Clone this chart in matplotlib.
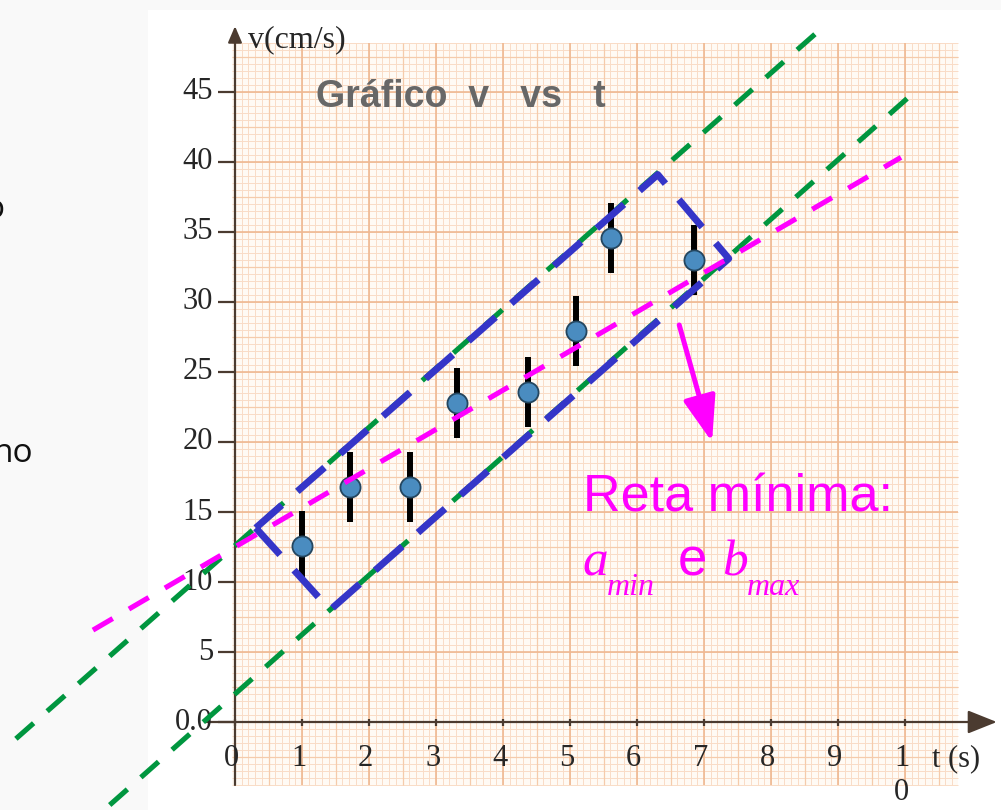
import numpy as np
import matplotlib.pyplot as plt
from matplotlib.patches import Rectangle

plt.rcParams['lines.scale_dashes'] = False

# measured velocities (cm/s) at each time (s), with their uncertainty
t_data = [1.00, 1.72, 2.61, 3.31, 4.37, 5.09, 5.61, 6.85]
v_data = [12.6, 16.8, 16.8, 22.8, 23.6, 27.9, 34.6, 33.0]
v_err = [2.5, 2.5, 2.5, 2.5, 2.5, 2.5, 2.5, 2.5]

# limit lines v = b + a*t  (max slope, min slope through bottom, minimum line)
line_b = [12.6, 2.0, 12.5]
line_a = [4.22, 4.24, 2.80]
line_t0 = [-3.27, -1.87, -2.12]
line_t1 = [8.73, 10.15, 9.94]

# band enclosing the points
box_t = [0.31, 1.42, 7.37, 6.31, 0.31]
box_v = [13.86, 8.0, 33.1, 39.1, 13.86]

x_ticks = [0, 1, 2, 3, 4, 5, 6, 7, 8, 9, 10]
x_labels = ['0', '1', '2', '3', '4', '5', '6', '7', '8', '9', '1']
y_ticks = [0, 5, 10, 15, 20, 25, 30, 35, 40, 45]
y_labels = ['0.0', '5', '10', '15', '20', '25', '30', '35', '40', '45']

W, H = 1001, 810
T0_PX, PX_PER_T = 235, 67
V0_PX, PX_PER_V = 722, 14

fig = plt.figure(figsize=(W / 100, H / 100), dpi=100)
fig.patch.set_facecolor('#f9f9f9')
ax = fig.add_axes([0, 0, 1, 1])
ax.axis('off')
ax.set_xlim(-T0_PX / PX_PER_T, (W - T0_PX) / PX_PER_T)
ax.set_ylim((V0_PX - H) / PX_PER_V, V0_PX / PX_PER_V)

# white page behind the graph
ax.add_patch(Rectangle((148 / W, 0), 1, (H - 10) / H, transform=ax.transAxes,
                       facecolor='white', edgecolor='none', zorder=0.1))

# graph paper
p_t0, p_t1, p_v0, p_v1 = -0.05, 10.79, -4.5, 48.5
ax.add_patch(Rectangle((p_t0, p_v0), p_t1 - p_t0, p_v1 - p_v0,
                       facecolor='#fffaf4', edgecolor='none', zorder=0.5))
fine_t = np.arange(0, 10.75, 0.1)
fine_v = np.arange(-4.5, 48.6, 0.5)
ax.vlines(fine_t, p_v0, p_v1, color='#f9dcc6', lw=0.7, zorder=0.6)
ax.hlines(fine_v, p_t0, p_t1, color='#f9dcc6', lw=0.7, zorder=0.6)
ax.vlines(np.arange(0.5, 10.75, 1.0), p_v0, p_v1, color='#f5cbab', lw=0.9, zorder=0.7)
ax.hlines(np.arange(-2.5, 48.6, 5.0), p_t0, p_t1, color='#f5cbab', lw=0.9, zorder=0.7)
ax.vlines(np.arange(0, 11), p_v0, p_v1, color='#efb892', lw=1.2, zorder=0.8)
ax.hlines(np.arange(0, 48.6, 5.0), p_t0, p_t1, color='#efb892', lw=1.2, zorder=0.8)

# axes with arrows
axis_col = '#4b3b30'
ax.annotate('', xy=(0, 49.7), xytext=(0, p_v0),
            arrowprops=dict(arrowstyle='-|>,head_length=0.7,head_width=0.3',
                            color=axis_col, lw=1.6, mutation_scale=14,
                            shrinkA=0, shrinkB=0), zorder=2)
ax.annotate('', xy=(11.37, 0), xytext=(-0.45, 0),
            arrowprops=dict(arrowstyle='-|>,head_length=1.0,head_width=0.4',
                            color=axis_col, lw=1.6, mutation_scale=18,
                            shrinkA=0, shrinkB=0), zorder=2)
ax.hlines(y_ticks, -0.26, 0, color=axis_col, lw=1.6, zorder=2)
ax.vlines(x_ticks, -0.25, 0.25, color=axis_col, lw=1.6, zorder=2)

serif = 'Liberation Serif'
tick_col = '#262626'
for v, lab in zip(y_ticks, y_labels):
    ax.text(-0.33, v, lab, ha='right', va='center', fontsize=22,
            family=serif, color=tick_col, zorder=3)
for t, lab in zip(x_ticks, x_labels):
    ax.text(t - 0.05, -3.14, lab, ha='center', va='baseline', fontsize=22,
            family=serif, color=tick_col, zorder=3)
ax.text(10 - 0.05, -5.57, '0', ha='center', va='baseline', fontsize=22,
        family=serif, color=tick_col, zorder=3)
ax.text(10.4, -3.14, 't (s)', ha='left', va='baseline', fontsize=22,
        family=serif, color=tick_col, zorder=3)
ax.text(0.19, 48.2, 'v(cm/s)', ha='left', va='baseline', fontsize=23,
        family=serif, color=tick_col, zorder=3)

ax.text(1.21, 43.93, 'Gráfico  v   vs   t', ha='left', va='baseline', fontsize=27,
        fontweight='bold', family='Liberation Sans', color='#676767', zorder=3)

# limit lines
line_cols = ['#00963f', '#00963f', '#ff00ff']
line_dash = [(0, (17, 13)), (0, (17, 13)), (0, (16.5, 13.5))]
line_z = [3, 3, 7]
for b, a, t0, t1, c, ls, z in zip(line_b, line_a, line_t0, line_t1,
                                  line_cols, line_dash, line_z):
    ts = np.array([t0, t1])
    ax.plot(ts, b + a * ts, color=c, lw=3.7, linestyle=ls,
            dash_capstyle='butt', zorder=z)

# data with error bars
ax.errorbar(t_data, v_data, yerr=v_err, fmt='none', ecolor='black',
            elinewidth=4.3, capsize=0, zorder=4)
ax.plot(t_data, v_data, 'o', ms=14.5, mfc='#4a8cc0', mec='#24465f',
        mew=1.3, zorder=5)

ax.plot(box_t, box_v, color='#3535c8', lw=5, linestyle=(0, (26, 15)),
        dash_capstyle='butt', zorder=6)

# annotation
mag = '#ff00ff'
ax.annotate('', xy=(7.12, 20.0), xytext=(6.63, 28.36),
            arrowprops=dict(arrowstyle='-|>,head_length=1.4,head_width=0.5',
                            color=mag, lw=3.6, mutation_scale=20,
                            shrinkA=0, shrinkB=0), zorder=8)
ax.text(5.19, 15.0, 'Reta mínima:', fontsize=37.5, color=mag,
        family='Liberation Sans', va='baseline', zorder=8)
ax.text(5.19, 10.5, 'a', fontsize=37, color=mag, family=serif, style='italic',
        va='baseline', zorder=8)
ax.text(5.55, 9.07, 'min', fontsize=23, color=mag, family=serif, style='italic',
        va='baseline', zorder=8)
ax.text(6.61, 10.5, 'e', fontsize=38, color=mag, family='Liberation Sans',
        va='baseline', zorder=8)
ax.text(7.27, 10.5, 'b', fontsize=37, color=mag, family=serif, style='italic',
        va='baseline', zorder=8)
ax.text(7.64, 9.07, 'max', fontsize=23, color=mag, family=serif, style='italic',
        va='baseline', zorder=8)

# text running off the left edge of the page
ax.text(-3.45, 36.0, 'o', fontsize=24, color='#111111', family='Open Sans',
        ha='right', va='baseline', zorder=3)
ax.text(-3.015, 18.57, 'no', fontsize=24, color='#111111', family='Open Sans',
        ha='right', va='baseline', zorder=3)

fig.savefig('out.png', dpi=100, facecolor=fig.get_facecolor())
